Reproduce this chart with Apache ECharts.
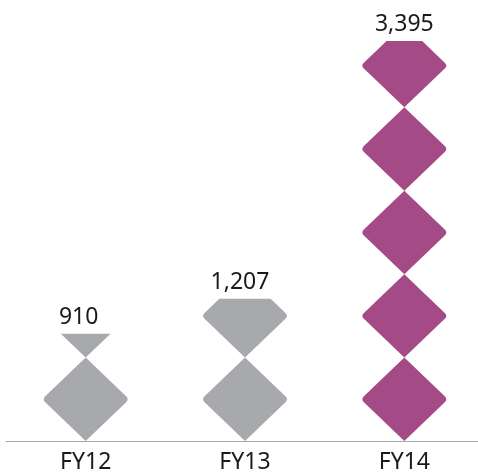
<!DOCTYPE html>
<html><head><meta charset="utf-8">
<style>html,body{margin:0;padding:0;background:#fff}#c{width:478px;height:476px}</style>
<script src="https://cdn.jsdelivr.net/npm/echarts@6/dist/echarts.min.js"></script>
</head><body><div id="c"></div>
<script>
const categories = ['FY12', 'FY13', 'FY14'];
const values = [910, 1207, 3395];
const barColors = ['#a7a9ac', '#a7a9ac', '#a44a87'];
const axisMax = 3395;
const unitValue = 708;
const unitsShown = 5;
const diamond = 'path://M42 0L81 39Q84 42 81 45L42 84L3 45Q0 42 3 39Z';
const font = '"Noto Sans", sans-serif';
const chart = echarts.init(document.getElementById('c'), null, {renderer: 'canvas'});
chart.setOption({
  animation: false,
  grid: {left: 6, top: 41, right: -6, bottom: 35, outerBoundsMode: 'none', containLabel: false},
  xAxis: {
    type: 'category', data: categories,
    axisLine: {lineStyle: {color: '#a7a9ac', width: 1}},
    axisTick: {show: false},
    axisLabel: {color: '#1a1a1a', fontFamily: font, fontSize: 23, margin: 10}
  },
  yAxis: {type: 'value', min: 0, max: axisMax, show: false, splitLine: {show: false}},
  series: [{
    type: 'pictorialBar',
    data: values.map((v, i) => ({value: v, itemStyle: {color: barColors[i]}})),
    symbol: diamond,
    symbolRepeat: true,
    symbolMargin: 0,
    symbolClip: true,
    symbolBoundingData: unitValue * unitsShown,
    symbolSize: [84, 83.42],
    z: 2
  }, {
    type: 'bar',
    data: [
      {value: values[0], label: {offset: [-7, 0]}},
      {value: values[1], label: {offset: [-5, 0]}},
      {value: values[2]}
    ],
    barWidth: 84,
    itemStyle: {color: 'transparent'},
    silent: true,
    z: 3,
    label: {
      show: true, position: 'top', distance: 5, color: '#1a1a1a',
      fontFamily: font, fontSize: 23,
      formatter: p => p.value.toLocaleString('en-US')
    }
  }]
});
</script></body></html>
